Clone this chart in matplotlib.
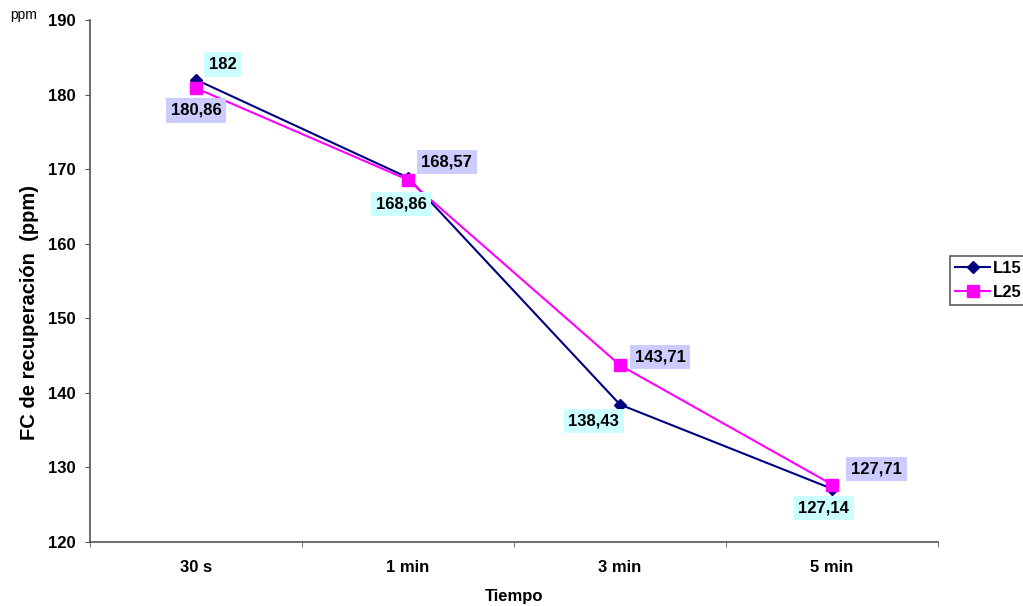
import matplotlib
matplotlib.use("Agg")
import matplotlib.pyplot as plt

plt.rcParams['font.family'] = ['Liberation Sans', 'DejaVu Sans']

categories = ["30 s", "1 min", "3 min", "5 min"]
l15 = [182, 168.86, 138.43, 127.14]
l25 = [180.86, 168.57, 143.71, 127.71]
l15_labels = ["182", "168,86", "138,43", "127,14"]
l25_labels = ["180,86", "168,57", "143,71", "127,71"]
yticks = [120, 130, 140, 150, 160, 170, 180, 190]

W, H = 1023, 606
fig = plt.figure(figsize=(W / 100, H / 100), dpi=100)
ax = fig.add_axes([90 / W, 64 / H, 848 / W, 522 / H])

x = list(range(len(categories)))
ax.plot(x, l15, color="#000080", lw=1.5, marker="D", markersize=6.5,
        label="L15", zorder=3)
ax.plot(x, l25, color="#FF00FF", lw=1.5, marker="s", markersize=8.5,
        label="L25", zorder=4)

# value labels next to each point
l15_off = [(19, 11), (-5, -19), (-19, -12), (-6, -14)]
l25_off = [(0, -16), (28, 13), (29, 6), (32, 11)]
for xi, v, t, o in zip(x, l15, l15_labels, l15_off):
    ax.annotate(t, (xi, v), xytext=o, textcoords="offset points",
                ha="center", va="center", fontsize=12, fontweight="bold",
                bbox=dict(boxstyle="square,pad=0.28", fc="#CCFFFF", ec="none"),
                zorder=6)
for xi, v, t, o in zip(x, l25, l25_labels, l25_off):
    ax.annotate(t, (xi, v), xytext=o, textcoords="offset points",
                ha="center", va="center", fontsize=12, fontweight="bold",
                bbox=dict(boxstyle="square,pad=0.28", fc="#CCCCFF", ec="none"),
                zorder=6)

ax.set_xlim(-0.5, 3.5)
ax.set_ylim(120, 190)
ax.set_yticks(yticks)
ax.set_yticklabels([str(t) for t in yticks], fontsize=12, fontweight="bold")
ax.set_xticks(x)
ax.set_xticklabels(categories, fontsize=12, fontweight="bold")
ax.tick_params(axis="x", length=0, pad=13)
ax.set_xticks([-0.5, 0.5, 1.5, 2.5, 3.5], minor=True)
ax.tick_params(axis="x", which="minor", length=3.8, color="#555555")
ax.tick_params(axis="y", length=3.8, color="#555555", pad=6.5)

for s in ["top", "right"]:
    ax.spines[s].set_visible(False)
for s in ["left", "bottom"]:
    ax.spines[s].set_color("#555555")
    ax.spines[s].set_linewidth(1.2)

fig.text(514 / W, 1 - 597 / H, "Tiempo", fontsize=12, fontweight="bold",
         ha="center", va="center")
fig.text(30 / W, 1 - 312 / H, "FC de recuperación  (ppm)", fontsize=14.5,
         fontweight="bold", rotation=90, ha="center", va="center")
fig.text(10 / W, 1 - 15 / H, "ppm", fontsize=10, va="center", ha="left")

leg = fig.legend(loc="upper left", bbox_to_anchor=(950 / W, 1 - 256 / H),
                 prop={"weight": "bold", "size": 12},
                 frameon=True, fancybox=False, edgecolor="#333333",
                 handlelength=2.1, borderpad=0.3, labelspacing=0.55,
                 handletextpad=0.2, borderaxespad=0)
leg.get_frame().set_linewidth(1.2)

fig.savefig("out.png", dpi=100)
